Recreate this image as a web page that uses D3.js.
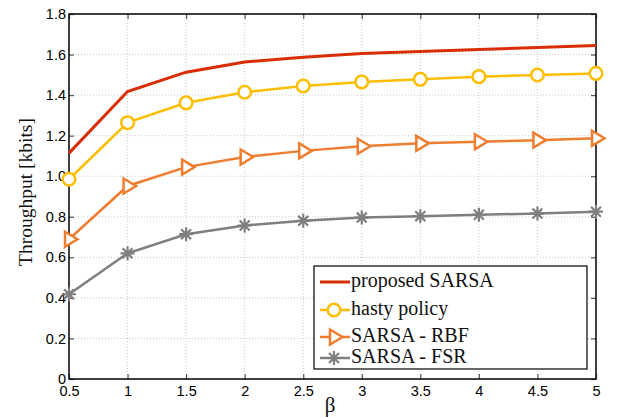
<!DOCTYPE html>
<html><head><meta charset="utf-8">
<script src="https://cdn.jsdelivr.net/npm/d3@7"></script>
<style>body{margin:0;background:#fff}svg{display:block}</style>
</head><body>
<script>
const betas = [0.5,1,1.5,2,2.5,3,3.5,4,4.5,5];
const proposedSARSA = [1.114,1.418,1.513,1.563,1.587,1.605,1.615,1.625,1.635,1.645];
const hastyPolicy   = [0.985,1.264,1.362,1.414,1.445,1.465,1.478,1.491,1.499,1.507];
const sarsaRBF      = [0.689,0.952,1.045,1.095,1.125,1.148,1.162,1.170,1.178,1.187];
const sarsaFSR      = [0.418,0.620,0.714,0.757,0.780,0.796,0.803,0.810,0.816,0.825];
const xTicks = [0.5,1,1.5,2,2.5,3,3.5,4,4.5,5];
const yTicks = [0,0.2,0.4,0.6,0.8,1.0,1.2,1.4,1.6,1.8];
const seriesNames = ["proposed SARSA","hasty policy","SARSA - RBF","SARSA - FSR"];
const seriesColors = ["#d92d06","#fdbd00","#ef7d30","#7f7f7f"];
const seriesMarkers = ["none","circle","triangle","star"];
const seriesData = [proposedSARSA, hastyPolicy, sarsaRBF, sarsaFSR];

const W=621,H=418, L=69,R=596,T=14,B=379;
const svg=d3.select("body").append("svg").attr("width",W).attr("height",H);
const x=d3.scaleLinear().domain([0.5,5]).range([L,R]);
const y=d3.scaleLinear().domain([0,1.8]).range([B,T]);

// grid
const g=svg.append("g");
g.selectAll(".vg").data(xTicks.slice(1,-1)).enter().append("line")
 .attr("x1",d=>x(d)).attr("x2",d=>x(d)).attr("y1",T).attr("y2",B)
 .attr("stroke","#c8c8c8").attr("stroke-width",1).attr("stroke-dasharray","1,2");
g.selectAll(".hg").data(yTicks.slice(1,-1)).enter().append("line")
 .attr("y1",d=>y(d)).attr("y2",d=>y(d)).attr("x1",L).attr("x2",R)
 .attr("stroke","#c8c8c8").attr("stroke-width",1).attr("stroke-dasharray","1,2");

// axes
const fmtX=d=>String(d);
const fmtY=d=>d===0?"0":d3.format(".1f")(d);
const ax=svg.append("g").attr("transform",`translate(0,${B})`)
 .call(d3.axisBottom(x).tickValues(xTicks).tickFormat(fmtX).tickSizeInner(-5).tickSizeOuter(0).tickPadding(7));
const ay=svg.append("g").attr("transform",`translate(${L},0)`)
 .call(d3.axisLeft(y).tickValues(yTicks).tickFormat(fmtY).tickSizeInner(-5).tickSizeOuter(0).tickPadding(3));
const axT=svg.append("g").attr("transform",`translate(0,${T})`)
 .call(d3.axisTop(x).tickValues(xTicks).tickFormat("").tickSizeInner(-5).tickSizeOuter(0));
const ayR=svg.append("g").attr("transform",`translate(${R},0)`)
 .call(d3.axisRight(y).tickValues(yTicks).tickFormat("").tickSizeInner(-5).tickSizeOuter(0));
[ax,ay,axT,ayR].forEach(a=>{
  a.select(".domain").remove();
  a.selectAll(".tick line").attr("stroke","#555").attr("stroke-width",1.2);
  a.selectAll("text").attr("font-family","'Liberation Sans',Arial,sans-serif").attr("font-size",14.5).attr("fill","#000");
});
svg.append("rect").attr("x",L).attr("y",T).attr("width",R-L).attr("height",B-T)
 .attr("fill","none").attr("stroke","#000").attr("stroke-width",1.5);

// markers
function drawMarker(sel,type,color,cx,cy){
  if(type==="circle"){
    sel.append("circle").attr("cx",cx).attr("cy",cy).attr("r",6.3)
     .attr("fill","#fff").attr("stroke",color).attr("stroke-width",2.5);
  } else if(type==="triangle"){
    const p=[[cx-4,cy-7.5],[cx+8.5,cy],[cx-4,cy+7.5]];
    sel.append("path").attr("d","M"+p.map(q=>q.join(",")).join("L")+"Z")
     .attr("fill","#fff").attr("stroke",color).attr("stroke-width",2.5).attr("stroke-linejoin","miter");
  } else if(type==="star"){
    const r=7;
    let d="";
    for(let k=0;k<4;k++){const a=k*Math.PI/4;
      d+=`M${cx-r*Math.cos(a)},${cy-r*Math.sin(a)}L${cx+r*Math.cos(a)},${cy+r*Math.sin(a)}`;}
    sel.append("path").attr("d",d).attr("stroke",color).attr("stroke-width",2.2);
  }
}
const line=d3.line().x((d,i)=>x(betas[i])).y(d=>y(d));
seriesData.forEach((data,si)=>{
  const gs=svg.append("g");
  gs.append("path").datum(data).attr("d",line).attr("fill","none")
   .attr("stroke",seriesColors[si]).attr("stroke-width",si===0?3:2.5);
  if(seriesMarkers[si]!=="none") data.forEach((v,i)=>drawMarker(gs,seriesMarkers[si],seriesColors[si],x(betas[i]),y(v)));
});

// legend
const lg=svg.append("g");
lg.append("rect").attr("x",314).attr("y",266).attr("width",273).attr("height",103)
 .attr("fill","#fff").attr("stroke","#000").attr("stroke-width",1.2);
const ly=[282,310,337,358];
seriesNames.forEach((n,i)=>{
  lg.append("line").attr("x1",320).attr("x2",350).attr("y1",ly[i]).attr("y2",ly[i])
   .attr("stroke",seriesColors[i]).attr("stroke-width",i===0?3:2.5);
  if(seriesMarkers[i]!=="none") drawMarker(lg,seriesMarkers[i],seriesColors[i],334,ly[i]);
  lg.append("text").attr("x",351).attr("y",ly[i]+5).text(n)
   .attr("font-family","'Liberation Serif','Times New Roman',serif").attr("font-size",20).attr("fill","#111");
});

// labels
svg.append("text").attr("x",330).attr("y",412).attr("text-anchor","middle").text("β")
 .attr("font-family","'Liberation Serif',serif").attr("font-size",21).attr("fill","#111");
svg.append("text").attr("transform",`translate(32,192) rotate(-90)`).attr("text-anchor","middle")
 .text("Throughput [kbits]").attr("font-family","'Liberation Serif',serif").attr("font-size",19.5).attr("fill","#111");
</script>
</body></html>
